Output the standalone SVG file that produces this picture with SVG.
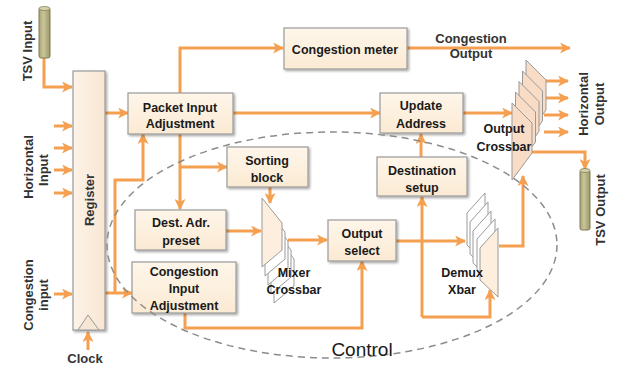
<svg xmlns="http://www.w3.org/2000/svg" width="619" height="367" viewBox="0 0 619 367">
<defs>
<marker id="ah" viewBox="0 0 10 10" refX="9" refY="5" markerWidth="11" markerHeight="11" markerUnits="userSpaceOnUse" orient="auto">
<path d="M0,0 L10,5 L0,10 L2.5,5 z" fill="#f5a050"/>
</marker>
<filter id="sh" x="-10%" y="-10%" width="130%" height="140%">
<feDropShadow dx="1.5" dy="1.5" stdDeviation="1" flood-color="#000" flood-opacity="0.35"/>
</filter>
<linearGradient id="boxg" x1="0" y1="0" x2="0" y2="1">
<stop offset="0" stop-color="#fef6ea"/>
<stop offset="1" stop-color="#fbead3"/>
</linearGradient>
<linearGradient id="regg" x1="0" y1="0" x2="1" y2="0">
<stop offset="0" stop-color="#fdf3e8"/>
<stop offset="1" stop-color="#f8e6d3"/>
</linearGradient>
<linearGradient id="cyl" x1="0" y1="0" x2="1" y2="0">
<stop offset="0" stop-color="#a9a474"/>
<stop offset="0.4" stop-color="#c9c59a"/>
<stop offset="1" stop-color="#9c9766"/>
</linearGradient>
</defs>
<style>
.box{fill:url(#boxg);stroke:#9a9a9a;stroke-width:1.2;filter:url(#sh)}
.t{font-family:"Liberation Sans",Arial,sans-serif;font-weight:bold;font-size:12.5px;fill:#1a1a1a;text-anchor:middle}
.s{font-family:"Liberation Sans",Arial,sans-serif;font-weight:bold;font-size:13px;fill:#333;text-anchor:middle}
.c{fill:none;stroke:#f5a050;stroke-width:3;stroke-linejoin:miter}
.a{marker-end:url(#ah)}
.pf{fill:#fdeede;stroke:#9a9a9a;stroke-width:1}
.pb{fill:#ffffff;stroke:#9a9a9a;stroke-width:1}
.po{fill:#f9dcc6;stroke:#999;stroke-width:1}
.cy{fill:url(#cyl);stroke:#7f7b58;stroke-width:1}
</style>
<rect width="619" height="367" fill="#ffffff"/>

<g id="connectors">
<path class="c a" d="M44,58 V87 H72"/>
<path class="c a" d="M54,126 H72"/>
<path class="c a" d="M54,148 H72"/>
<path class="c a" d="M54,170 H72"/>
<path class="c a" d="M54,193 H72"/>
<path class="c a" d="M54,294 H72"/>
<path class="c a" d="M88,350 V332"/>
<path class="c a" d="M105,113 H128"/>
<path class="c a" d="M180,93 V48 H283"/>
<path class="c a" d="M407,48 H570"/>
<path class="c a" d="M233,113 H380"/>
<path class="c a" d="M463,113 H512"/>
<path class="c a" d="M180,134 V209"/>
<path class="c a" d="M180,167 H227"/>
<path class="c a" d="M105,293 H132"/>
<path class="c a" d="M115,293 V180 H143 V134"/>
<path class="c a" d="M226,231 H261"/>
<path class="c a" d="M270,187 V203"/>
<path class="c a" d="M288,240 H327"/>
<path class="c a" d="M185,313 V328 H362 V261"/>
<path class="c a" d="M396,241 H465"/>
<path class="c a" d="M422,317 V197"/>
<path class="c a" d="M422,317 H490 V290"/>
<path class="c a" d="M421,157 V134"/>
<path class="c a" d="M499,246 H523 V176"/>
<path class="c a" d="M544,81 H568"/>
<path class="c a" d="M544,98 H568"/>
<path class="c a" d="M544,115 H568"/>
<path class="c a" d="M544,132 H568"/>
<path class="c a" d="M532,152 H585 V169"/>
</g>

<g id="tsv-input">
<rect class="cy" x="39" y="8" width="11" height="50" rx="2"/>
<ellipse cx="44.5" cy="8.5" rx="5.5" ry="2" fill="#d6d3ac" stroke="#7f7b58" stroke-width="0.8"/>
<text class="s" transform="translate(27,51) rotate(-90)" x="0" y="4.5">TSV Input</text>
</g>

<g id="horizontal-input">
<text class="s" transform="translate(28,167) rotate(-90)" x="0" y="4.5">Horizontal</text>
<text class="s" transform="translate(43,170) rotate(-90)" x="0" y="4.5">Input</text>
</g>

<g id="congestion-input">
<text class="s" transform="translate(28,295) rotate(-90)" x="0" y="4.5">Congestion</text>
<text class="s" transform="translate(43,295) rotate(-90)" x="0" y="4.5">input</text>
</g>

<g id="register">
<rect x="73" y="71" width="32" height="259" fill="url(#regg)" stroke="#9a9a9a" stroke-width="1.2" filter="url(#sh)"/>
<path d="M78,330 L88,315 L99,330 z" fill="#f6e6d6" stroke="#9a9a9a" stroke-width="1"/>
<text class="s" transform="translate(89,200) rotate(-90)" x="0" y="4.5" fill="#1a1a1a">Register</text>
</g>

<g id="clock">
<text class="s" x="85" y="362.5">Clock</text>
</g>

<g id="packet-input">
<rect class="box" x="128" y="93" width="105" height="41"/>
<text class="t" x="180" y="111.5">Packet Input</text>
<text class="t" x="180" y="127.5">Adjustment</text>
</g>

<g id="congestion-meter">
<rect class="box" x="284" y="28" width="123" height="41"/>
<text class="t" x="345" y="53.5">Congestion meter</text>
</g>

<g id="congestion-output">
<text class="s" x="471" y="42.5">Congestion</text>
<text class="s" x="471" y="57.5">Output</text>
</g>

<g id="update-address">
<rect class="box" x="380" y="93" width="83" height="40"/>
<text class="t" x="421" y="109.5">Update</text>
<text class="t" x="421" y="127.5">Address</text>
</g>

<g id="destination-setup">
<rect class="box" x="377" y="157" width="90" height="39"/>
<text class="t" x="422" y="174.5">Destination</text>
<text class="t" x="422" y="191.5">setup</text>
</g>

<g id="sorting-block">
<rect class="box" x="227" y="147" width="81" height="40"/>
<text class="t" x="267" y="164.5">Sorting</text>
<text class="t" x="267" y="181.5">block</text>
</g>

<g id="dest-adr-preset">
<rect class="box" x="135" y="210" width="91" height="40"/>
<text class="t" x="181" y="226.5">Dest. Adr.</text>
<text class="t" x="181" y="244.5">preset</text>
</g>

<g id="congestion-input-adjustment">
<rect class="box" x="132" y="262" width="104" height="51"/>
<text class="t" x="184" y="275.5">Congestion</text>
<text class="t" x="184" y="292.5">Input</text>
<text class="t" x="184" y="309.5">Adjustment</text>
</g>

<g id="output-select">
<rect class="box" x="328" y="220" width="68" height="41"/>
<text class="t" x="362" y="237.5">Output</text>
<text class="t" x="362" y="254.5">select</text>
</g>

<g id="mixer-crossbar">
<polygon class="pb" points="274,234 294,259 294,286 274,303"/>
<polygon class="pb" points="271,225 291,250 291,277 271,294"/>
<polygon class="pb" points="268,216 288,241 288,268 268,285"/>
<polygon class="pb" points="265,207 285,232 285,259 265,276"/>
<polygon class="pf" points="262,198 282,223 282,250 262,267"/>
<text class="t" x="294" y="276.5">Mixer</text>
<text class="t" x="294" y="293.5">Crossbar</text>
</g>

<g id="demux-xbar">
<polygon class="pb" points="467,213 485,193 485,262 467,245"/>
<polygon class="pb" points="470,222 488,202 488,271 470,254"/>
<polygon class="pb" points="473,231 491,211 491,280 473,263"/>
<polygon class="pb" points="477,239 495,219 495,288 477,271"/>
<polygon class="pf" points="480,248 498,228 498,297 480,280"/>
<text class="t" x="462" y="276.5">Demux</text>
<text class="t" x="462" y="293.5">Xbar</text>
</g>

<g id="output-crossbar">
<polygon class="po" points="526,60 546,80 546,110 526,137"/>
<polygon class="po" points="522.5,71 542.5,91 542.5,121 522.5,148"/>
<polygon class="po" points="519,81.5 539,101.5 539,131.5 519,158.5"/>
<polygon class="po" points="515.5,92 535.5,112 535.5,142 515.5,169"/>
<polygon class="po" points="512,103 532,123 532,153 512,180"/>
<text class="t" x="504" y="132.5">Output</text>
<text class="t" x="504" y="150.5">Crossbar</text>
</g>

<g id="horizontal-output">
<text class="s" transform="translate(583,104) rotate(-90)" x="0" y="4.5">Horizontal</text>
<text class="s" transform="translate(599,104) rotate(-90)" x="0" y="4.5">Output</text>
</g>

<g id="tsv-output">
<rect class="cy" x="580" y="170" width="10" height="60" rx="2"/>
<ellipse cx="585" cy="170.5" rx="5" ry="2" fill="#d6d3ac" stroke="#7f7b58" stroke-width="0.8"/>
<text class="s" transform="translate(600,210) rotate(-90)" x="0" y="4.5">TSV Output</text>
</g>

<g id="control">
<ellipse cx="332" cy="245" rx="225" ry="113" fill="none" stroke="#8c8c8c" stroke-width="1.5" stroke-dasharray="7 5"/>
<text x="362" y="356" font-family="'Liberation Sans',Arial,sans-serif" font-size="19" fill="#1a1a1a" text-anchor="middle">Control</text>
</g>
</svg>
